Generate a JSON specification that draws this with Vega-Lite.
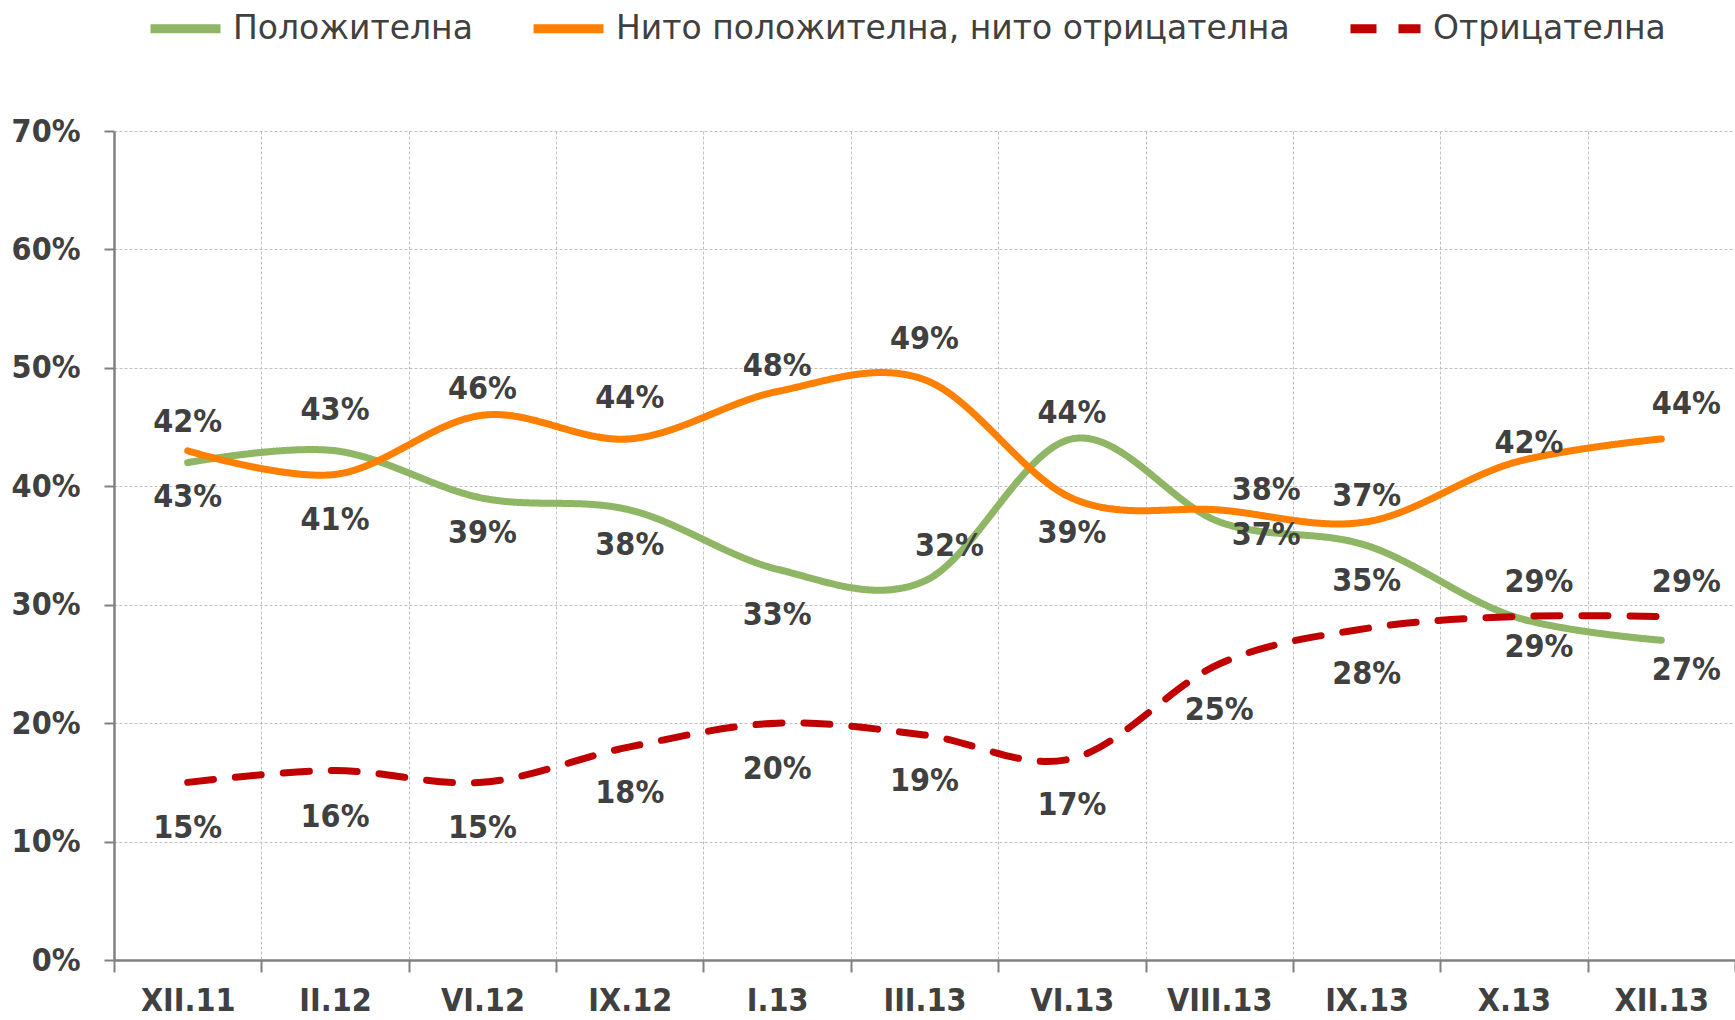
{
  "$schema": "https://vega.github.io/schema/vega-lite/v6.json",
  "width": 1621,
  "height": 829,
  "autosize": "none",
  "padding": {"left": 114, "top": 131, "right": 0, "bottom": 60},
  "background": "white",
  "config": {"view": {"stroke": null}},
  "data": {
    "values": [
      {"period": "XII.11", "series": "Положителна", "value": 0.42},
      {"period": "II.12", "series": "Положителна", "value": 0.43},
      {"period": "VI.12", "series": "Положителна", "value": 0.39},
      {"period": "IX.12", "series": "Положителна", "value": 0.38},
      {"period": "I.13", "series": "Положителна", "value": 0.33},
      {"period": "III.13", "series": "Положителна", "value": 0.32},
      {"period": "VI.13", "series": "Положителна", "value": 0.44},
      {"period": "VIII.13", "series": "Положителна", "value": 0.37},
      {"period": "IX.13", "series": "Положителна", "value": 0.35},
      {"period": "X.13", "series": "Положителна", "value": 0.29},
      {"period": "XII.13", "series": "Положителна", "value": 0.27},
      {"period": "XII.11", "series": "Нито положителна, нито отрицателна", "value": 0.43},
      {"period": "II.12", "series": "Нито положителна, нито отрицателна", "value": 0.41},
      {"period": "VI.12", "series": "Нито положителна, нито отрицателна", "value": 0.46},
      {"period": "IX.12", "series": "Нито положителна, нито отрицателна", "value": 0.44},
      {"period": "I.13", "series": "Нито положителна, нито отрицателна", "value": 0.48},
      {"period": "III.13", "series": "Нито положителна, нито отрицателна", "value": 0.49},
      {"period": "VI.13", "series": "Нито положителна, нито отрицателна", "value": 0.39},
      {"period": "VIII.13", "series": "Нито положителна, нито отрицателна", "value": 0.38},
      {"period": "IX.13", "series": "Нито положителна, нито отрицателна", "value": 0.37},
      {"period": "X.13", "series": "Нито положителна, нито отрицателна", "value": 0.42},
      {"period": "XII.13", "series": "Нито положителна, нито отрицателна", "value": 0.44},
      {"period": "XII.11", "series": "Отрицателна", "value": 0.15},
      {"period": "II.12", "series": "Отрицателна", "value": 0.16},
      {"period": "VI.12", "series": "Отрицателна", "value": 0.15},
      {"period": "IX.12", "series": "Отрицателна", "value": 0.18},
      {"period": "I.13", "series": "Отрицателна", "value": 0.20},
      {"period": "III.13", "series": "Отрицателна", "value": 0.19},
      {"period": "VI.13", "series": "Отрицателна", "value": 0.17},
      {"period": "VIII.13", "series": "Отрицателна", "value": 0.25},
      {"period": "IX.13", "series": "Отрицателна", "value": 0.28},
      {"period": "X.13", "series": "Отрицателна", "value": 0.29},
      {"period": "XII.13", "series": "Отрицателна", "value": 0.29}
    ]
  },
  "encoding": {
    "x": {
      "field": "period",
      "type": "ordinal",
      "sort": ["XII.11", "II.12", "VI.12", "IX.12", "I.13", "III.13", "VI.13", "VIII.13", "IX.13", "X.13", "XII.13"],
      "scale": {"type": "band", "paddingInner": 0, "paddingOuter": 0},
      "axis": {
        "title": null,
        "labelAngle": 0,
        "tickBand": "extent",
        "grid": true,
        "gridColor": "#BFBFBF",
        "gridDash": [3, 2],
        "gridWidth": 1,
        "domainColor": "#808080",
        "domainWidth": 2.5,
        "tickColor": "#808080",
        "tickWidth": 2,
        "tickSize": 12,
        "labelFont": "DejaVu Sans Condensed",
        "labelFontSize": 32,
        "labelFontWeight": "bold",
        "labelColor": "#404040",
        "labelPadding": 13
      }
    },
    "y": {
      "field": "value",
      "type": "quantitative",
      "scale": {"domain": [0, 0.7]},
      "axis": {
        "title": null,
        "values": [0, 0.1, 0.2, 0.3, 0.4, 0.5, 0.6, 0.7],
        "format": ".0%",
        "grid": true,
        "gridColor": "#BFBFBF",
        "gridDash": [3, 2],
        "gridWidth": 1,
        "domainColor": "#808080",
        "domainWidth": 2.5,
        "tickColor": "#808080",
        "tickWidth": 2,
        "tickSize": 10,
        "labelFont": "DejaVu Sans Condensed",
        "labelFontSize": 32,
        "labelFontWeight": "bold",
        "labelColor": "#404040",
        "labelPadding": 24
      }
    }
  },
  "layer": [
    {
      "mark": {"type": "line", "interpolate": "cardinal", "strokeWidth": 7, "strokeCap": "round"},
      "encoding": {
        "color": {
          "field": "series",
          "type": "nominal",
          "scale": {
            "domain": ["Положителна", "Нито положителна, нито отрицателна", "Отрицателна"],
            "range": ["#8EB665", "#FF8000", "#C00000"]
          },
          "legend": {
            "orient": "none", "legendX": 32, "legendY": -142, "direction": "horizontal", "title": null,
            "symbolType": "stroke", "symbolSize": 4900, "symbolStrokeWidth": 9,
            "labelFont": "DejaVu Sans", "labelFontSize": 33, "labelColor": "#404040",
            "labelOffset": 8, "columnPadding": 42, "labelLimit": 1000
          }
        },
        "strokeDash": {
          "field": "series",
          "type": "nominal",
          "scale": {
            "domain": ["Положителна", "Нито положителна, нито отрицателна", "Отрицателна"],
            "range": [[1, 0], [1, 0], [26, 22]]
          },
          "legend": {
            "orient": "none", "legendX": 32, "legendY": -142, "direction": "horizontal", "title": null,
            "symbolType": "stroke", "symbolSize": 4900, "symbolStrokeWidth": 9,
            "labelFont": "DejaVu Sans", "labelFontSize": 33, "labelColor": "#404040",
            "labelOffset": 8, "columnPadding": 42, "labelLimit": 1000
          }
        }
      }
    },
    {
      "transform": [{"filter": "indexof(['Положителна|XII.11','Положителна|II.12','Нито положителна, нито отрицателна|IX.12','Нито положителна, нито отрицателна|III.13'], datum.series + '|' + datum.period) >= 0"}],
      "mark": {"type": "text", "dy": -41, "font": "DejaVu Sans Condensed", "fontSize": 32, "fontWeight": "bold", "color": "#404040", "baseline": "middle"},
      "encoding": {"text": {"field": "value", "type": "quantitative", "format": ".0%"}}
    },
    {
      "transform": [{"filter": "indexof(['Положителна|VI.13','Нито положителна, нито отрицателна|VI.12','Нито положителна, нито отрицателна|IX.13','Нито положителна, нито отрицателна|I.13'], datum.series + '|' + datum.period) >= 0"}],
      "mark": {"type": "text", "dy": -26, "font": "DejaVu Sans Condensed", "fontSize": 32, "fontWeight": "bold", "color": "#404040", "baseline": "middle"},
      "encoding": {"text": {"field": "value", "type": "quantitative", "format": ".0%"}}
    },
    {
      "transform": [{"filter": "indexof(['Положителна|VI.12','Положителна|IX.12','Положителна|IX.13','Нито положителна, нито отрицателна|VI.13'], datum.series + '|' + datum.period) >= 0"}],
      "mark": {"type": "text", "dy": 35, "font": "DejaVu Sans Condensed", "fontSize": 32, "fontWeight": "bold", "color": "#404040", "baseline": "middle"},
      "encoding": {"text": {"field": "value", "type": "quantitative", "format": ".0%"}}
    },
    {
      "transform": [{"filter": "indexof(['Положителна|I.13','Нито положителна, нито отрицателна|XII.11','Нито положителна, нито отрицателна|II.12','Отрицателна|XII.11','Отрицателна|II.12','Отрицателна|VI.12','Отрицателна|IX.12','Отрицателна|I.13','Отрицателна|III.13','Отрицателна|VI.13','Отрицателна|VIII.13','Отрицателна|IX.13'], datum.series + '|' + datum.period) >= 0"}],
      "mark": {"type": "text", "dy": 46, "font": "DejaVu Sans Condensed", "fontSize": 32, "fontWeight": "bold", "color": "#404040", "baseline": "middle"},
      "encoding": {"text": {"field": "value", "type": "quantitative", "format": ".0%"}}
    },
    {
      "transform": [{"filter": "indexof(['Отрицателна|X.13','Отрицателна|XII.13','Нито положителна, нито отрицателна|XII.13','Положителна|III.13'], datum.series + '|' + datum.period) >= 0"}],
      "mark": {"type": "text", "dx": 25, "dy": -35, "font": "DejaVu Sans Condensed", "fontSize": 32, "fontWeight": "bold", "color": "#404040", "baseline": "middle"},
      "encoding": {"text": {"field": "value", "type": "quantitative", "format": ".0%"}}
    },
    {
      "transform": [{"filter": "indexof(['Положителна|X.13','Положителна|XII.13'], datum.series + '|' + datum.period) >= 0"}],
      "mark": {"type": "text", "dx": 25, "dy": 30, "font": "DejaVu Sans Condensed", "fontSize": 32, "fontWeight": "bold", "color": "#404040", "baseline": "middle"},
      "encoding": {"text": {"field": "value", "type": "quantitative", "format": ".0%"}}
    },
    {
      "transform": [{"filter": "datum.series === 'Положителна' && datum.period === 'VIII.13'"}],
      "mark": {"type": "text", "dx": 47, "dy": 13, "font": "DejaVu Sans Condensed", "fontSize": 32, "fontWeight": "bold", "color": "#404040", "baseline": "middle"},
      "encoding": {"text": {"field": "value", "type": "quantitative", "format": ".0%"}}
    },
    {
      "transform": [{"filter": "datum.series === 'Нито положителна, нито отрицателна' && datum.period === 'VIII.13'"}],
      "mark": {"type": "text", "dx": 47, "dy": -20, "font": "DejaVu Sans Condensed", "fontSize": 32, "fontWeight": "bold", "color": "#404040", "baseline": "middle"},
      "encoding": {"text": {"field": "value", "type": "quantitative", "format": ".0%"}}
    },
    {
      "transform": [{"filter": "datum.series === 'Нито положителна, нито отрицателна' && datum.period === 'X.13'"}],
      "mark": {"type": "text", "dx": 15, "dy": -20, "font": "DejaVu Sans Condensed", "fontSize": 32, "fontWeight": "bold", "color": "#404040", "baseline": "middle"},
      "encoding": {"text": {"field": "value", "type": "quantitative", "format": ".0%"}}
    }
  ]
}
